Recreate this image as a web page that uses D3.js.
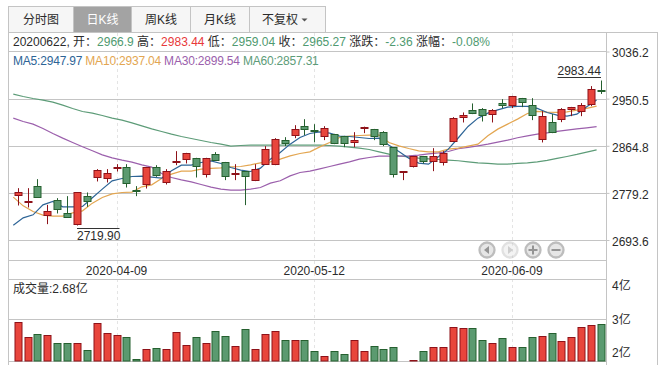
<!DOCTYPE html>
<html><head><meta charset="utf-8">
<script src="https://d3js.org/d3.v7.min.js"></script>
<style>html,body{margin:0;padding:0;background:#fff}svg{display:block}
text{font-family:"Liberation Sans","Noto Sans CJK SC",sans-serif;font-size:12px;fill:#2b2b2b;white-space:pre}</style>
</head><body><div id="c"></div>
<script>
const dates=["2020-03-25","2020-03-26","2020-03-27","2020-03-30","2020-03-31","2020-04-01","2020-04-02","2020-04-03","2020-04-07","2020-04-08","2020-04-09","2020-04-10","2020-04-13","2020-04-14","2020-04-15","2020-04-16","2020-04-17","2020-04-20","2020-04-21","2020-04-22","2020-04-23","2020-04-24","2020-04-27","2020-04-28","2020-04-29","2020-04-30","2020-05-06","2020-05-07","2020-05-08","2020-05-11","2020-05-12","2020-05-13","2020-05-14","2020-05-15","2020-05-18","2020-05-19","2020-05-20","2020-05-21","2020-05-22","2020-05-25","2020-05-26","2020-05-27","2020-05-28","2020-05-29","2020-06-01","2020-06-02","2020-06-03","2020-06-04","2020-06-05","2020-06-08","2020-06-09","2020-06-10","2020-06-11","2020-06-12","2020-06-15","2020-06-16","2020-06-17","2020-06-18","2020-06-19","2020-06-22"];
const opens=[2774.5,2761.8,2791.5,2738.2,2766.0,2742.4,2723.0,2773.3,2807.2,2805.4,2824.2,2826.0,2784.8,2794.5,2826.0,2798.7,2834.5,2840.5,2842.4,2812.7,2849.6,2835.1,2812.7,2818.7,2802.4,2831.4,2831.4,2875.1,2884.2,2900.5,2893.2,2882.3,2886.0,2882.3,2872.6,2898.1,2895.1,2889.6,2862.3,2817.5,2827.8,2846.0,2837.5,2835.1,2873.2,2916.3,2929.0,2931.5,2922.4,2942.4,2938.7,2951.4,2938.7,2876.3,2907.8,2913.3,2931.5,2927.8,2940.5,2966.9];
const closes=[2780.6,2764.2,2771.5,2746.0,2749.1,2735.1,2780.0,2764.2,2820.6,2815.1,2826.6,2796.9,2783.0,2826.0,2811.5,2818.7,2836.9,2851.4,2827.8,2842.4,2838.7,2809.6,2815.1,2809.6,2822.4,2858.7,2876.3,2870.8,2895.1,2895.1,2890.8,2896.9,2869.6,2869.6,2875.1,2899.3,2882.3,2867.8,2813.3,2818.7,2846.0,2836.9,2846.0,2851.4,2915.0,2920.5,2923.6,2920.0,2929.0,2938.7,2955.1,2944.2,2920.5,2918.7,2889.7,2931.5,2935.1,2938.7,2967.8,2965.27];
const highs=[2787.8,2787.8,2804.2,2757.5,2769.7,2773.3,2780.5,2780.0,2822.4,2822.4,2831.4,2831.4,2791.5,2826.5,2829.6,2822.4,2855.1,2852.0,2843.0,2843.0,2853.3,2835.5,2831.4,2819.0,2831.4,2864.2,2878.7,2880.5,2902.3,2913.2,2904.1,2900.5,2886.5,2882.8,2889.6,2899.6,2895.5,2891.4,2862.6,2819.0,2846.3,2846.3,2860.5,2855.1,2916.9,2925.4,2941.8,2933.3,2931.5,2949.6,2955.5,2951.8,2951.4,2927.8,2922.4,2933.3,2935.5,2942.4,2973.3,2983.44];
const lows=[2756.3,2752.7,2771.5,2722.4,2741.8,2735.1,2719.9,2753.9,2800.0,2798.1,2818.1,2789.0,2773.3,2787.2,2808.4,2794.5,2829.6,2832.7,2807.2,2807.2,2838.7,2802.4,2802.4,2757.0,2800.6,2831.0,2829.6,2864.2,2878.7,2884.2,2871.4,2875.1,2867.8,2862.3,2862.3,2887.8,2875.1,2864.2,2807.2,2802.4,2825.4,2832.7,2818.7,2829.0,2873.0,2907.2,2922.4,2909.0,2907.2,2933.3,2933.3,2935.1,2911.5,2870.9,2887.8,2907.8,2918.7,2918.7,2936.9,2959.04];
const ma5=[2720.6,2733.9,2739.4,2757.5,2763.6,2753.9,2753.9,2754.5,2770.3,2786.0,2801.2,2805.4,2809.0,2809.6,2807.8,2806.0,2819.3,2829.6,2829.6,2834.5,2837.5,2832.7,2825.4,2820.5,2818.1,2824.2,2840.5,2852.6,2867.8,2879.9,2887.2,2890.2,2887.8,2882.3,2881.7,2879.9,2878.1,2878.7,2866.0,2854.5,2842.4,2833.3,2831.4,2844.8,2858.7,2879.0,2900.0,2915.1,2924.2,2930.2,2935.1,2936.3,2936.3,2932.7,2925.4,2920.6,2918.7,2922.4,2935.7,2947.97];
const ma10=[2771.5,2755.7,2745.4,2738.8,2737.0,2737.0,2743.0,2746.6,2760.6,2770.9,2777.5,2779.9,2780.6,2790.3,2793.9,2805.4,2813.3,2818.7,2818.7,2822.4,2823.6,2824.8,2826.6,2827.2,2830.2,2833.9,2835.7,2840.5,2846.6,2850.8,2853.9,2862.9,2870.8,2879.9,2882.3,2883.5,2884.2,2884.2,2870.8,2864.8,2859.9,2855.7,2853.9,2853.9,2858.7,2860.6,2864.2,2867.8,2883.0,2895.1,2904.2,2913.3,2923.6,2927.2,2926.0,2925.4,2926.6,2929.6,2932.7,2937.04];
const ma30=[2915.0,2909.0,2904.1,2896.3,2887.2,2878.7,2870.8,2863.0,2855.7,2848.4,2843.0,2838.7,2835.1,2830.2,2826.0,2814.5,2807.2,2803.0,2799.3,2794.5,2789.6,2786.0,2784.2,2784.2,2786.0,2789.0,2796.9,2801.2,2810.2,2816.3,2818.7,2823.0,2827.2,2831.4,2835.7,2840.5,2843.6,2846.0,2846.0,2846.0,2846.6,2847.8,2850.2,2852.0,2854.5,2859.4,2861.8,2864.8,2867.8,2871.5,2875.1,2879.4,2883.0,2886.0,2888.4,2890.9,2893.3,2895.7,2897.5,2899.54];
const ma60=[2958.7,2954.4,2950.8,2947.8,2944.1,2938.7,2932.6,2927.2,2924.1,2919.9,2915.0,2911.4,2906.6,2901.1,2895.7,2890.8,2886.0,2881.7,2878.1,2874.5,2870.8,2867.8,2864.2,2865.4,2866.0,2866.0,2866.0,2866.0,2866.0,2866.0,2866.0,2866.0,2865.4,2864.2,2862.3,2860.5,2858.1,2853.9,2849.6,2846.6,2844.8,2842.4,2841.1,2839.9,2838.7,2837.6,2835.7,2833.9,2832.7,2831.5,2831.5,2832.7,2833.9,2835.7,2838.2,2841.8,2845.4,2849.1,2853.3,2857.31];
const volumes=[2.95,2.59,2.66,2.63,2.44,2.44,2.44,2.27,2.93,2.68,2.63,2.59,2.05,2.29,2.32,2.29,2.71,2.39,2.59,2.44,2.73,2.61,2.37,2.78,2.29,2.66,2.73,2.51,2.51,2.51,2.24,2.12,2.24,2.17,2.51,2.24,2.37,2.29,2.34,2.01,2.03,2.24,2.34,2.34,2.84,2.81,2.81,2.52,2.45,2.57,2.35,2.35,2.59,2.62,2.69,2.50,2.59,2.84,2.89,2.91];
const priceTicks=[3036.2,2950.5,2864.8,2779.2,2693.6];
const volTicks=[4,3,2];
const dateTicks=["2020-04-09","2020-05-12","2020-06-09"];
const tabs=["分时图","日K线","周K线","月K线","不复权"];
const tabEdges=[8,73,131,190,249,325];
const infoParts=[["20200622, 开：","#2b2b2b"],["2966.9","#4f9a70"],[" 高：","#2b2b2b"],["2983.44","#e8393a"],[" 低：","#2b2b2b"],["2959.04","#4f9a70"],[" 收：","#2b2b2b"],["2965.27","#4f9a70"],[" 涨跌：","#2b2b2b"],["-2.36","#4f9a70"],[" 涨幅：","#2b2b2b"],["-0.08%","#4f9a70"]];
const C={ma5:"#2d6496",ma10:"#e3a651",ma30:"#9b5fac",ma60:"#5d9c78",grid:"#c4c4c4",up:"#e8453c",upS:"#8e1219",dn:"#5b9a70",dnS:"#25602f"};
const maParts=[["MA5:2947.97",C.ma5],[" MA10:2937.04",C.ma10],[" MA30:2899.54",C.ma30],[" MA60:2857.31",C.ma60]];

const W=664,H=372,L=8.5,R=606.5,RR=657.5,TOP=32.5,BOT=365;
const svg=d3.select("#c").append("svg").attr("width",W).attr("height",H);
const x=d3.scalePoint().domain(dates).range([17.7,601]);
const y=d3.scaleLinear().domain([3036.2,2693.6]).range([51.5,240]);
const v=d3.scaleLinear().domain([2,4]).range([361,279]);

// tabs
tabs.forEach((t,i)=>{
  const g=svg.append("g");
  g.append("rect").attr("x",tabEdges[i]+.5).attr("y",6.5).attr("width",tabEdges[i+1]-tabEdges[i]).attr("height",26)
   .attr("fill",i==1?"#a3a3a3":"#f6f6f6").attr("stroke",C.grid);
  g.append("text").attr("x",i==4?tabEdges[i]+13:(tabEdges[i]+tabEdges[i+1])/2+.5).attr("y",23.5)
   .attr("text-anchor",i==4?"start":"middle").style("fill",i==1?"#fff":"#2b2b2b").text(t);
});
svg.append("path").attr("d","M301.5 18.5h6l-3 3z").attr("fill","#555");

// frame & grid
const line=(x1,y1,x2,y2,c=C.grid)=>svg.append("line").attr("x1",x1).attr("y1",y1).attr("x2",x2).attr("y2",y2).attr("stroke",c).attr("stroke-width",1);
dateTicks.forEach(d=>line(Math.round(x(d))+.5,33,Math.round(x(d))+.5,362,"#e4e4e4").attr("stroke-dasharray","3,3"));
line(8,TOP,RR,TOP);line(L,32,L,BOT);line(R,32,R,BOT);line(RR,32,RR,BOT);
line(L,51.5,R,51.5);line(L,260.5,R,260.5);line(L,279.5,R,279.5);
line(L,319.5,R,319.5);line(L,361.5,R,361.5);

// price axis
const ay=svg.append("g").attr("transform",`translate(${R},0)`).call(d3.axisRight(y).tickValues(priceTicks).tickFormat(d3.format(".1f")).tickSize(3).tickPadding(2));
ay.select(".domain").remove();
ay.selectAll(".tick line").attr("stroke",C.grid);
ay.selectAll("text").attr("dy","0.45em").attr("x",5.5).style("font-family",null).style("font-size",null).attr("font-family",null).attr("font-size",null);
priceTicks.slice(1).forEach(p=>line(L,Math.round(y(p))+.5,R,Math.round(y(p))+.5));

// volume axis
const volDy={4:11,3:4,2:-4};
svg.selectAll(".vt").data(volTicks).join("text").attr("x",612).attr("y",d=>v(d)+volDy[d]).text(d=>d+"亿");

// date labels
svg.selectAll(".dt").data(dateTicks).join("text").attr("x",d=>x(d)).attr("y",274.5).attr("text-anchor","middle").text(d=>d);

// info
const info=svg.append("text").attr("x",13).attr("y",46);
infoParts.forEach(p=>info.append("tspan").style("fill",p[1]).text(p[0]));
const mat=svg.append("text").attr("x",13).attr("y",65).style("letter-spacing","-0.2px");
maParts.forEach(p=>mat.append("tspan").style("fill",p[1]).text(p[0]));
svg.append("text").attr("x",13).attr("y",293).text("成交量:2.68亿");

// MA lines
const mk=a=>d3.line().x((d,i)=>x(dates[i])-4.4).y(d=>y(d))(a);
[[ma60,C.ma60],[ma30,C.ma30],[ma10,C.ma10],[ma5,C.ma5]].forEach(([a,c])=>
  svg.append("path").attr("d",mk(a)).attr("fill","none").attr("stroke",c).attr("stroke-width",1.2));

// candles
const BW=7;
dates.forEach((d,i)=>{
  const up=closes[i]>=opens[i], cx=Math.round(x(d))+.5;
  const top=Math.round(y(Math.max(opens[i],closes[i])))+.5, bot=Math.round(y(Math.min(opens[i],closes[i])))+.5;
  line(cx,y(highs[i]),cx,y(lows[i]),up?C.upS:C.dnS);
  svg.append("rect").attr("x",cx-BW/2).attr("y",top).attr("width",BW).attr("height",Math.max(bot-top,1))
    .attr("fill",up?C.up:C.dn).attr("stroke",up?C.upS:C.dnS);
  const vt=Math.round(v(volumes[i]))+.5;
  svg.append("rect").attr("x",cx-BW/2).attr("y",vt).attr("width",BW).attr("height",361-vt)
    .attr("fill",up?C.up:C.dn).attr("stroke",up?C.upS:C.dnS);
});

// high/low annotations
svg.append("text").attr("x",557.5).attr("y",75).text("2983.44");
line(557.5,77.5,601,77.5,"#333");
svg.append("text").attr("x",77).attr("y",240).text("2719.90");
line(77,228.5,119.5,228.5,"#333");

// nav buttons
[487,510,533,556].forEach((cx,i)=>{
  const g=svg.append("g").attr("transform",`translate(${cx},250)`).attr("opacity",i==1?.45:1);
  g.append("circle").attr("r",7.5).attr("fill","#e6e6e6").attr("stroke","#bdbdbd").attr("stroke-width",2.3);
  const ic="#949494";
  if(i==0) g.append("path").attr("d","M-3 0L2 -4V4Z").attr("fill",ic);
  if(i==1) g.append("path").attr("d","M3 0L-2 -4V4Z").attr("fill",ic);
  if(i==2) g.append("path").attr("d","M-4.5 -1H-1V-4.5H1V-1H4.5V1H1V4.5H-1V1H-4.5Z").attr("fill",ic);
  if(i==3) g.append("rect").attr("x",-4.5).attr("y",-1).attr("width",9).attr("height",2).attr("fill",ic);
});
</script></body></html>
